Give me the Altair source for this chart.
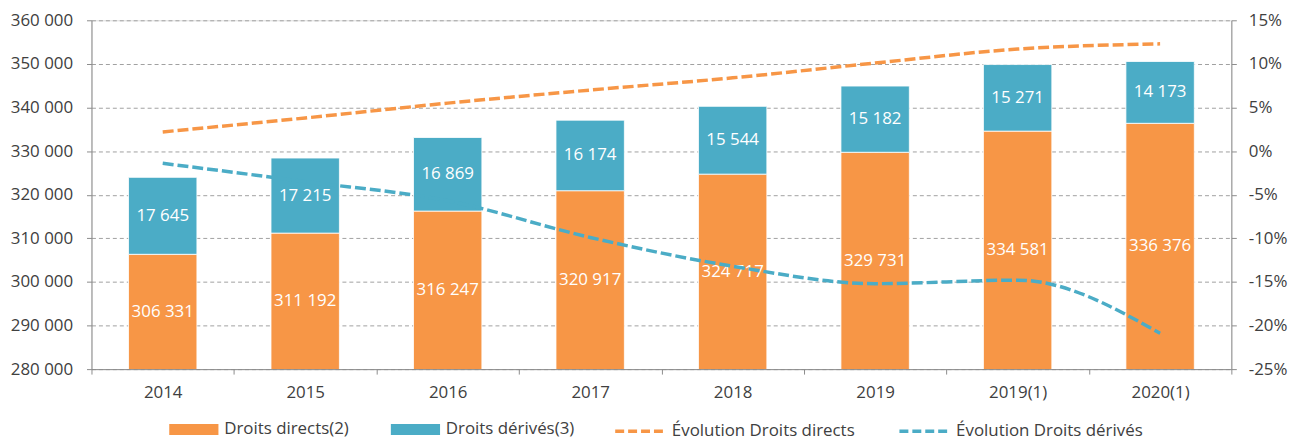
import altair as alt
import pandas as pd

years = ["2014", "2015", "2016", "2017", "2018", "2019", "2019(1)", "2020(1)"]
droits_directs = [306331, 311192, 316247, 320917, 324717, 329731, 334581, 336376]
droits_derives = [17645, 17215, 16869, 16174, 15544, 15182, 15271, 14173]
evol_directs = [2.2, 3.8, 5.5, 7.0, 8.4, 10.1, 11.7, 12.3]
evol_derives = [-1.4, -3.5, -5.7, -9.9, -13.2, -15.2, -14.8, -20.9]

bar_series = ["Droits directs(2)", "Droits dérivés(3)"]
line_series = ["Évolution Droits directs", "Évolution Droits dérivés"]
left_ticks = [280000, 290000, 300000, 310000, 320000, 330000, 340000, 350000, 360000]
right_ticks = [-25, -20, -15, -10, -5, 0, 5, 10, 15]

ORANGE = "#F79646"
BLUE = "#4BACC6"
FONT = "Open Sans"
TXT = "#404040"
AX = "#8C8C8C"

rows = []
for i, y in enumerate(years):
    d, r = droits_directs[i], droits_derives[i]
    rows.append({"year": y, "series": bar_series[0], "value": d, "start": 0, "end": d,
                 "mid": (left_ticks[0] + d) / 2})
    rows.append({"year": y, "series": bar_series[1], "value": r, "start": d, "end": d + r,
                 "mid": d + r / 2})
bars_df = pd.DataFrame(rows)

lrows = []
for i, y in enumerate(years):
    lrows.append({"year": y, "series": line_series[0], "pct": evol_directs[i]})
    lrows.append({"year": y, "series": line_series[1], "pct": evol_derives[i]})
lines_df = pd.DataFrame(lrows)

x_enc = alt.X(
    "year:N", sort=years,
    scale=alt.Scale(paddingInner=0, paddingOuter=0),
    axis=alt.Axis(title=None, labelAngle=0, tickBand="extent", tickSize=5,
                  labelPadding=11, domainColor=AX, tickColor=AX, grid=False,
                  labelFont=FONT, labelFontSize=17, labelColor=TXT),
)

yscale = alt.Scale(domain=[left_ticks[0], left_ticks[-1]], zero=False, nice=False)

bars = alt.Chart(bars_df).mark_bar(clip=True, width={"band": 0.48}, stroke="#FFFFFF",
                                   strokeWidth=0.8).encode(
    x=x_enc,
    y=alt.Y("start:Q", scale=yscale,
            axis=alt.Axis(title=None, values=left_ticks, tickSize=5, labelPadding=14,
                          labelExpr="replace(format(datum.value, ','), ',', ' ')",
                          domainColor=AX, tickColor=AX, gridColor="#A0A0A0",
                          gridDash=[4, 3], gridWidth=1,
                          labelFont=FONT, labelFontSize=17, labelColor=TXT)),
    y2="end:Q",
    fill=alt.Fill("series:N",
                  scale=alt.Scale(domain=bar_series, range=[ORANGE, BLUE]),
                  legend=alt.Legend(orient="none", legendX=94.5, legendY=403,
                                    direction="horizontal", title=None, padding=0,
                                    symbolType="M-4.5,-1H4.5V1H-4.5Z",
                                    symbolSize=121, symbolStrokeWidth=0,
                                    labelOffset=22, columnPadding=41, labelLimit=0,
                                    labelFont=FONT, labelFontSize=17, labelColor=TXT)),
)

texts = alt.Chart(bars_df).transform_calculate(
    label="replace(format(datum.value, ','), ',', ' ')"
).mark_text(color="#FFFFFF", font=FONT, fontSize=17, baseline="middle", align="center").encode(
    x=alt.X("year:N", sort=years),
    y=alt.Y("mid:Q", scale=yscale),
    text="label:N",
)

lines = alt.Chart(lines_df).mark_line(strokeWidth=3.5, strokeDash=[11, 4],
                                      interpolate="monotone").encode(
    x=alt.X("year:N", sort=years),
    y=alt.Y("pct:Q", scale=alt.Scale(domain=[-25, 15], zero=False, nice=False),
            axis=alt.Axis(orient="right", title=None, values=right_ticks, grid=False,
                          tickSize=5, labelPadding=12,
                          labelExpr="(datum.value < 0 ? '-' : '') + abs(datum.value) + '%'",
                          domainColor=AX, tickColor=AX,
                          labelFont=FONT, labelFontSize=17, labelColor=TXT)),
    stroke=alt.Stroke("series:N",
                      scale=alt.Scale(domain=line_series, range=[ORANGE, BLUE]),
                      legend=alt.Legend(orient="none", legendX=525, legendY=386.5,
                                        direction="horizontal", title=None, padding=0,
                                        symbolType="stroke", symbolSize=2500,
                                        symbolStrokeWidth=3.5, symbolDash=[9, 4],
                                        labelOffset=5, columnPadding=37, labelLimit=0,
                                        labelFont=FONT, labelFontSize=17, labelColor=TXT)),
)

left = alt.layer(bars, texts)
chart = alt.layer(left, lines).resolve_scale(y="independent", fill="independent",
                                             stroke="independent").properties(
    width=1147, height=351,
    autosize=alt.AutoSizeParams(type="none"),
    padding={"left": 84, "top": 11, "right": 58, "bottom": 76},
).configure_view(stroke=None).configure(background="#FFFFFF")

chart.save("out.html", embed_options={"renderer": "svg", "actions": False})
